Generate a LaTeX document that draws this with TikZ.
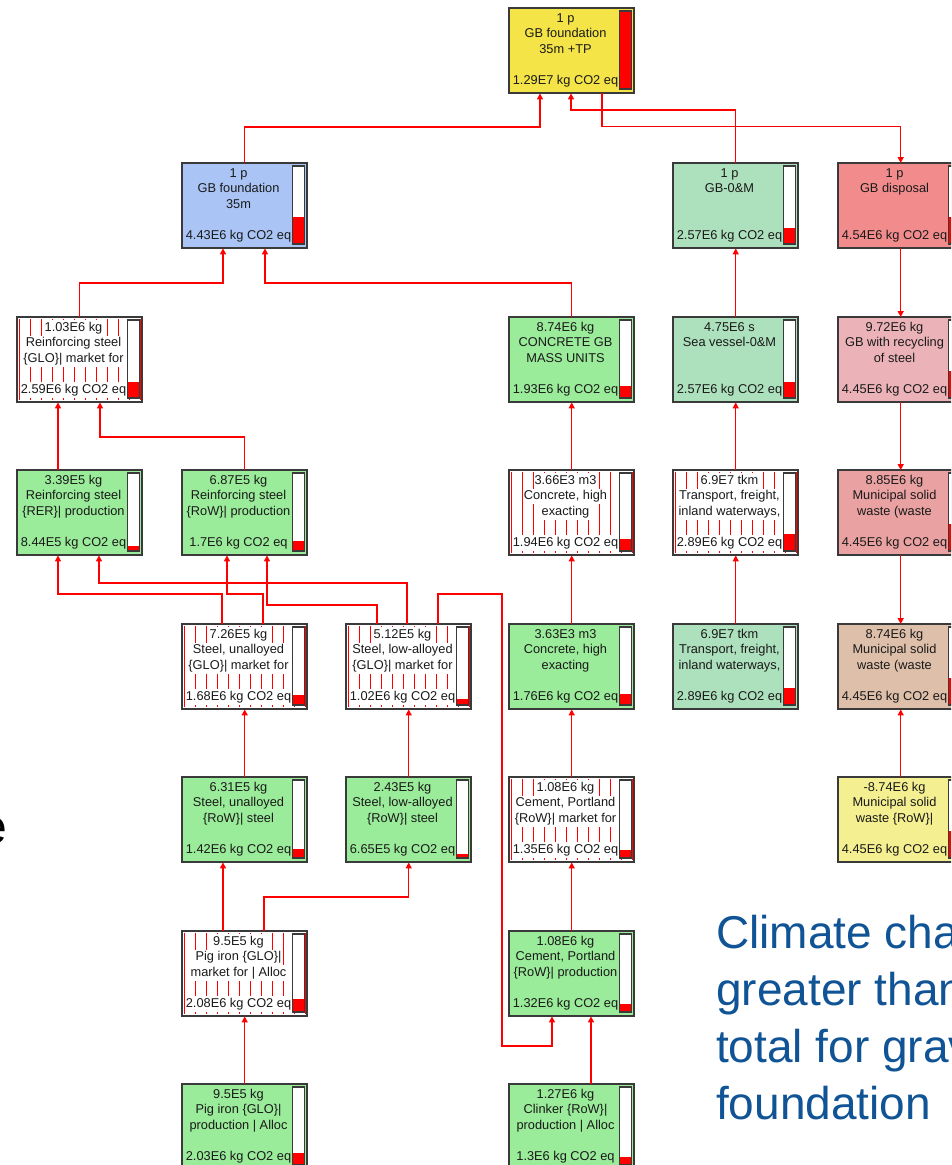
\documentclass[tikz,border=0pt]{standalone}
\usepackage{fontspec}
\setmainfont{Liberation Sans}
\usetikzlibrary{arrows.meta}
\definecolor{cgreen}{HTML}{9AEB9A}
\definecolor{cteal}{HTML}{ADE0BC}
\definecolor{cblue}{HTML}{A9C4F5}
\definecolor{cyellow}{HTML}{F4E448}
\definecolor{cdisp}{HTML}{F28C8C}
\definecolor{crecyc}{HTML}{EBB3B8}
\definecolor{cmsw}{HTML}{E9A1A1}
\definecolor{ctan}{HTML}{DEC0AA}
\definecolor{cpyel}{HTML}{F4EF90}
\definecolor{boxline}{HTML}{3A3A3A}
\definecolor{txtc}{HTML}{1A1A1A}
\definecolor{bluetxt}{HTML}{105496}
\tikzset{
  boxst/.style={draw=boxline, line width=1.4pt, minimum width=124pt, minimum height=84pt, inner sep=0pt, anchor=north west},
  barst/.style={draw=boxline, line width=1.3pt},
  hatchst/.style={draw=red, line width=0.9pt},
  txt/.style={inner xsep=1pt, inner ysep=1pt, text height=10pt, text depth=3.5pt, font=\fontsize{12.8}{15}\selectfont, text=txtc},
  conn/.style={draw=red, line width=1.3pt, -{Triangle[width=6pt,length=6pt]}},
  bigtxt/.style={anchor=base west, inner sep=0pt, font=\fontsize{46}{57}\selectfont, text=bluetxt},
}
\newcommand\boxinner[9]{%
  \node[txt, fill=#4] (#1-a) at (#2+56.5,#3+11) {#6};
  \node[txt, fill=#4] (#1-b) at (#2+56.5,#3+26.5) {#7};
  \node[txt, fill=#4] (#1-c) at (#2+56.5,#3+42) {#8};
  \node[txt, fill=#4] (#1-d) at (#2+56.5,#3+73) {#9};
  \fill[white] (#2+110.5,#3+3) rectangle (#2+122.5,#3+81);
  \fill[red] (#2+110.5,{#3+81-78*#5}) rectangle (#2+122.5,#3+81);
  \draw[barst] (#2+110.5,#3+3) rectangle (#2+122.5,#3+81);
  \draw[draw=boxline, line width=1.4pt] (#1.north west) rectangle (#1.south east);
}
\newcommand\procbox[9]{%
  \node[boxst, fill=#4] (#1) at (#2,#3) {};
  \boxinner{#1}{#2}{#3}{#4}{#5}{#6}{#7}{#8}{#9}
}
\newcommand\mktbox[8]{%
  \node[boxst, fill=white] (#1) at (#2,#3) {};
  \foreach \k in {0,...,11}{\draw[hatchst] ({#2+2+11*\k},{#3+1.5}) -- ({#2+2+11*\k},{#3+82.5});}
  \boxinner{#1}{#2}{#3}{white}{#4}{#5}{#6}{#7}{#8}
}
\begin{document}
\begin{tikzpicture}[x=1pt,y=-1pt]
\useasboundingbox (0,0) rectangle (951,1165);
\fill[white] (0,0) rectangle (951,1165);
\clip (0,0) rectangle (951,1165);

% boxes
\procbox{D1}{509}{8}{cyellow}{1}{1 p}{GB foundation}{35m +TP}{1.29E7 kg CO2 eq}
\procbox{B2}{182}{163}{cblue}{0.343}{1 p}{GB foundation}{35m}{4.43E6 kg CO2 eq}
\procbox{E2}{673}{163}{cteal}{0.199}{1 p}{GB-0\&M}{}{2.57E6 kg CO2 eq}
\procbox{F2}{838}{163}{cdisp}{0.352}{1 p}{GB disposal}{}{4.54E6 kg CO2 eq}
\mktbox{A3}{17}{317}{0.2}{1.03E6 kg}{Reinforcing steel}{\{GLO\}| market for}{2.59E6 kg CO2 eq}
\procbox{D3}{509}{317}{cgreen}{0.15}{8.74E6 kg}{CONCRETE GB}{MASS UNITS}{1.93E6 kg CO2 eq}
\procbox{E3}{673}{317}{cteal}{0.199}{4.75E6 s}{Sea vessel-0\&M}{}{2.57E6 kg CO2 eq}
\procbox{F3}{838}{317}{crecyc}{0.345}{9.72E6 kg}{GB with recycling}{of steel}{4.45E6 kg CO2 eq}
\procbox{A4}{17}{470}{cgreen}{0.065}{3.39E5 kg}{Reinforcing steel}{\{RER\}| production}{8.44E5 kg CO2 eq}
\procbox{B4}{182}{470}{cgreen}{0.132}{6.87E5 kg}{Reinforcing steel}{\{RoW\}| production}{1.7E6 kg CO2 eq}
\mktbox{D4}{509}{470}{0.15}{3.66E3 m3}{Concrete, high}{exacting}{1.94E6 kg CO2 eq}
\mktbox{E4}{673}{470}{0.224}{6.9E7 tkm}{Transport, freight,}{inland waterways,}{2.89E6 kg CO2 eq}
\procbox{F4}{838}{470}{cmsw}{0.345}{8.85E6 kg}{Municipal solid}{waste (waste}{4.45E6 kg CO2 eq}
\mktbox{B5}{182}{624}{0.13}{7.26E5 kg}{Steel, unalloyed}{\{GLO\}| market for}{1.68E6 kg CO2 eq}
\mktbox{C5}{346}{624}{0.079}{5.12E5 kg}{Steel, low-alloyed}{\{GLO\}| market for}{1.02E6 kg CO2 eq}
\procbox{D5}{509}{624}{cgreen}{0.136}{3.63E3 m3}{Concrete, high}{exacting}{1.76E6 kg CO2 eq}
\procbox{E5}{673}{624}{cteal}{0.224}{6.9E7 tkm}{Transport, freight,}{inland waterways,}{2.89E6 kg CO2 eq}
\procbox{F5}{838}{624}{ctan}{0.345}{8.74E6 kg}{Municipal solid}{waste (waste}{4.45E6 kg CO2 eq}
\procbox{B6}{182}{777}{cgreen}{0.11}{6.31E5 kg}{Steel, unalloyed}{\{RoW\}| steel}{1.42E6 kg CO2 eq}
\procbox{C6}{346}{777}{cgreen}{0.052}{2.43E5 kg}{Steel, low-alloyed}{\{RoW\}| steel}{6.65E5 kg CO2 eq}
\mktbox{D6}{509}{777}{0.105}{1.08E6 kg}{Cement, Portland}{\{RoW\}| market for}{1.35E6 kg CO2 eq}
\procbox{F6}{838}{777}{cpyel}{0.345}{-8.74E6 kg}{Municipal solid}{waste \{RoW\}|}{4.45E6 kg CO2 eq}
\mktbox{B7}{182}{931}{0.161}{9.5E5 kg}{Pig iron \{GLO\}|}{market for | Alloc}{2.08E6 kg CO2 eq}
\procbox{D7}{509}{931}{cgreen}{0.102}{1.08E6 kg}{Cement, Portland}{\{RoW\}| production}{1.32E6 kg CO2 eq}
\procbox{B8}{182}{1084}{cgreen}{0.157}{9.5E5 kg}{Pig iron \{GLO\}|}{production | Alloc}{2.03E6 kg CO2 eq}
\procbox{D8}{509}{1084}{cgreen}{0.1}{1.27E6 kg}{Clinker \{RoW\}|}{production | Alloc}{1.3E6 kg CO2 eq}

% connectors
\draw[conn] (B2.north) -- ++(0,-36) -| ([xshift=31pt]D1.south west);
\draw[conn] (E2.north) -- ++(0,-53) -| ([xshift=62pt]D1.south west);
\draw[conn] ([xshift=93pt]D1.south west) -- ++(0,33) -| (F2.north);
\draw[conn] (A3.north) -- ++(0,-34) -| ([xshift=41pt]B2.south west);
\draw[conn] (D3.north) -- ++(0,-34) -| ([xshift=83pt]B2.south west);
\draw[conn] (E3.north) -- (E2.south);
\draw[conn] (F2.south) -- (F3.north);
\draw[conn] ([xshift=41pt]A4.north west) -- ([xshift=41pt]A3.south west);
\draw[conn] (B4.north) -- ++(0,-33) -| ([xshift=83pt]A3.south west);
\draw[conn] (D4.north) -- (D3.south);
\draw[conn] (E4.north) -- (E3.south);
\draw[conn] (F3.south) -- (F4.north);
\draw[conn] ([xshift=40pt]B5.north west) -- ++(0,-30) -| ([xshift=41pt]A4.south west);
\draw[conn] ([xshift=81pt]B5.north west) -- ++(0,-30) -| ([xshift=45pt]B4.south west);
\draw[conn] ([xshift=61pt]C5.north west) -- ++(0,-41) -| ([xshift=82pt]A4.south west);
\draw[conn] ([xshift=31pt]C5.north west) -- ++(0,-19) -| ([xshift=85pt]B4.south west);
\coordinate (cturn1) at (502,594);
\coordinate (cturn2) at (502,1046);
\draw[conn] ([xshift=92pt]C5.north west) |- (cturn1) -- (cturn2) -| ([xshift=43pt]D7.south west);
\draw[conn] (D5.north) -- (D4.south);
\draw[conn] (E5.north) -- (E4.south);
\draw[conn] (F4.south) -- (F5.north);
\draw[conn] (B6.north) -- (B5.south);
\draw[conn] (C6.north) -- (C5.south);
\draw[conn] (D6.north) -- (D5.south);
\draw[conn] (F6.north) -- (F5.south);
\draw[conn] ([xshift=41pt]B7.north west) -- ([xshift=41pt]B6.south west);
\draw[conn] ([xshift=82pt]B7.north west) -- ++(0,-34) -| (C6.south);
\draw[conn] (D7.north) -- (D6.south);
\draw[conn] (B8.north) -- (B7.south);
\draw[conn] ([xshift=82pt]D8.north west) -- ([xshift=82pt]D7.south west);

% slide text
\node[anchor=base east, inner sep=0pt, font=\fontsize{48}{50}\selectfont] (edgeletter) at (7,843) {e};
\node[bigtxt] (t1) at (716,948) {Climate cha};
\node[bigtxt] (t2) at (716,1005) {greater than};
\node[bigtxt] (t3) at (716,1062) {total for grav};
\node[bigtxt] (t4) at (716,1119) {foundation};
\end{tikzpicture}
\end{document}
